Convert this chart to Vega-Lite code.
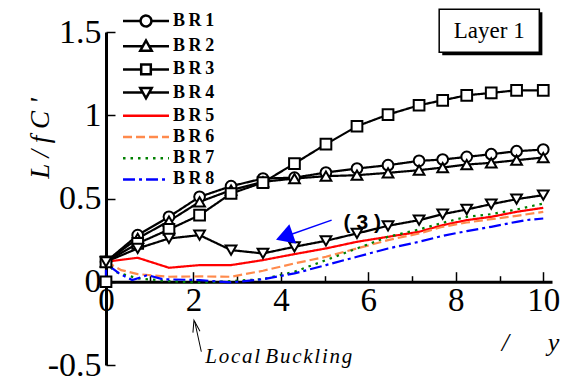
{
  "$schema": "https://vega.github.io/schema/vega-lite/v6.json",
  "width": 446,
  "height": 333,
  "autosize": "none",
  "padding": {"left": 106, "top": 32, "right": 17, "bottom": 15},
  "config": {"view": {"stroke": null}, "font": "Liberation Serif"},
  "datasets": {
    "series": [
      {"s":"BR1","i":0,"x":0,"y":0.12},{"s":"BR1","i":1,"x":0.725,"y":0.28},{"s":"BR1","i":2,"x":1.44,"y":0.39},{"s":"BR1","i":3,"x":2.14,"y":0.51},{"s":"BR1","i":4,"x":2.86,"y":0.574},{"s":"BR1","i":5,"x":3.59,"y":0.62},{"s":"BR1","i":6,"x":4.31,"y":0.625},{"s":"BR1","i":7,"x":5.03,"y":0.656},{"s":"BR1","i":8,"x":5.74,"y":0.68},{"s":"BR1","i":9,"x":6.45,"y":0.70},{"s":"BR1","i":10,"x":7.16,"y":0.726},{"s":"BR1","i":11,"x":7.70,"y":0.734},{"s":"BR1","i":12,"x":8.25,"y":0.75},{"s":"BR1","i":13,"x":8.81,"y":0.766},{"s":"BR1","i":14,"x":9.39,"y":0.784},{"s":"BR1","i":15,"x":10,"y":0.794},
      {"s":"BR2","i":0,"x":0,"y":0.12},{"s":"BR2","i":1,"x":0.725,"y":0.26},{"s":"BR2","i":2,"x":1.44,"y":0.364},{"s":"BR2","i":3,"x":2.14,"y":0.48},{"s":"BR2","i":4,"x":2.86,"y":0.55},{"s":"BR2","i":5,"x":3.59,"y":0.60},{"s":"BR2","i":6,"x":4.31,"y":0.62},{"s":"BR2","i":7,"x":5.03,"y":0.634},{"s":"BR2","i":8,"x":5.74,"y":0.64},{"s":"BR2","i":9,"x":6.45,"y":0.654},{"s":"BR2","i":10,"x":7.16,"y":0.67},{"s":"BR2","i":11,"x":7.70,"y":0.686},{"s":"BR2","i":12,"x":8.25,"y":0.704},{"s":"BR2","i":13,"x":8.81,"y":0.714},{"s":"BR2","i":14,"x":9.39,"y":0.73},{"s":"BR2","i":15,"x":10,"y":0.746},
      {"s":"BR3","i":0,"x":0,"y":0},{"s":"BR3","i":1,"x":0,"y":0.12},{"s":"BR3","i":2,"x":0.725,"y":0.23},{"s":"BR3","i":3,"x":1.44,"y":0.314},{"s":"BR3","i":4,"x":2.14,"y":0.40},{"s":"BR3","i":5,"x":2.86,"y":0.53},{"s":"BR3","i":6,"x":3.59,"y":0.596},{"s":"BR3","i":7,"x":4.31,"y":0.71},{"s":"BR3","i":8,"x":5.03,"y":0.826},{"s":"BR3","i":9,"x":5.74,"y":0.934},{"s":"BR3","i":10,"x":6.45,"y":1.004},{"s":"BR3","i":11,"x":7.16,"y":1.06},{"s":"BR3","i":12,"x":7.70,"y":1.09},{"s":"BR3","i":13,"x":8.25,"y":1.12},{"s":"BR3","i":14,"x":8.81,"y":1.134},{"s":"BR3","i":15,"x":9.39,"y":1.15},{"s":"BR3","i":16,"x":10,"y":1.15},
      {"s":"BR4","i":0,"x":0,"y":0.12},{"s":"BR4","i":1,"x":0.725,"y":0.20},{"s":"BR4","i":2,"x":1.44,"y":0.26},{"s":"BR4","i":3,"x":2.14,"y":0.28},{"s":"BR4","i":4,"x":2.86,"y":0.19},{"s":"BR4","i":5,"x":3.59,"y":0.17},{"s":"BR4","i":6,"x":4.31,"y":0.21},{"s":"BR4","i":7,"x":5.03,"y":0.246},{"s":"BR4","i":8,"x":5.74,"y":0.29},{"s":"BR4","i":9,"x":6.45,"y":0.336},{"s":"BR4","i":10,"x":7.16,"y":0.37},{"s":"BR4","i":11,"x":7.70,"y":0.406},{"s":"BR4","i":12,"x":8.25,"y":0.434},{"s":"BR4","i":13,"x":8.81,"y":0.466},{"s":"BR4","i":14,"x":9.39,"y":0.496},{"s":"BR4","i":15,"x":10,"y":0.52},
      {"s":"BR5","i":0,"x":0,"y":0.12},{"s":"BR5","i":1,"x":0.725,"y":0.144},{"s":"BR5","i":2,"x":1.44,"y":0.084},{"s":"BR5","i":3,"x":2.14,"y":0.10},{"s":"BR5","i":4,"x":2.86,"y":0.10},{"s":"BR5","i":5,"x":3.59,"y":0.13},{"s":"BR5","i":6,"x":4.31,"y":0.166},{"s":"BR5","i":7,"x":5.03,"y":0.20},{"s":"BR5","i":8,"x":5.74,"y":0.24},{"s":"BR5","i":9,"x":6.45,"y":0.27},{"s":"BR5","i":10,"x":7.16,"y":0.30},{"s":"BR5","i":11,"x":7.70,"y":0.34},{"s":"BR5","i":12,"x":8.25,"y":0.37},{"s":"BR5","i":13,"x":8.81,"y":0.39},{"s":"BR5","i":14,"x":9.39,"y":0.42},{"s":"BR5","i":15,"x":10,"y":0.444},
      {"s":"BR6","i":0,"x":0,"y":0.12},{"s":"BR6","i":1,"x":0.35,"y":0.07},{"s":"BR6","i":2,"x":0.725,"y":0.046},{"s":"BR6","i":3,"x":1.44,"y":0.03},{"s":"BR6","i":4,"x":2.14,"y":0.032},{"s":"BR6","i":5,"x":2.86,"y":0.03},{"s":"BR6","i":6,"x":3.59,"y":0.066},{"s":"BR6","i":7,"x":4.31,"y":0.11},{"s":"BR6","i":8,"x":5.03,"y":0.15},{"s":"BR6","i":9,"x":5.74,"y":0.20},{"s":"BR6","i":10,"x":6.45,"y":0.25},{"s":"BR6","i":11,"x":7.16,"y":0.29},{"s":"BR6","i":12,"x":7.70,"y":0.33},{"s":"BR6","i":13,"x":8.25,"y":0.356},{"s":"BR6","i":14,"x":8.81,"y":0.376},{"s":"BR6","i":15,"x":9.39,"y":0.396},{"s":"BR6","i":16,"x":10,"y":0.42},
      {"s":"BR7","i":0,"x":0,"y":0.12},{"s":"BR7","i":1,"x":0.2,"y":0.06},{"s":"BR7","i":2,"x":0.725,"y":0.02},{"s":"BR7","i":3,"x":1.44,"y":0.004},{"s":"BR7","i":4,"x":2.14,"y":-0.006},{"s":"BR7","i":5,"x":2.86,"y":0.004},{"s":"BR7","i":6,"x":3.59,"y":0.016},{"s":"BR7","i":7,"x":4.31,"y":0.06},{"s":"BR7","i":8,"x":5.03,"y":0.13},{"s":"BR7","i":9,"x":5.74,"y":0.20},{"s":"BR7","i":10,"x":6.45,"y":0.27},{"s":"BR7","i":11,"x":7.16,"y":0.314},{"s":"BR7","i":12,"x":7.70,"y":0.354},{"s":"BR7","i":13,"x":8.25,"y":0.39},{"s":"BR7","i":14,"x":8.81,"y":0.406},{"s":"BR7","i":15,"x":9.39,"y":0.434},{"s":"BR7","i":16,"x":10,"y":0.47},
      {"s":"BR8","i":0,"x":0,"y":0.0},{"s":"BR8","i":1,"x":0,"y":0.11},{"s":"BR8","i":2,"x":0.3,"y":0.05},{"s":"BR8","i":3,"x":0.6,"y":0.01},{"s":"BR8","i":4,"x":0.95,"y":0.04},{"s":"BR8","i":5,"x":1.3,"y":0.015},{"s":"BR8","i":6,"x":2.14,"y":0.01},{"s":"BR8","i":7,"x":2.86,"y":-0.004},{"s":"BR8","i":8,"x":3.59,"y":0.015},{"s":"BR8","i":9,"x":4.31,"y":0.05},{"s":"BR8","i":10,"x":5.03,"y":0.10},{"s":"BR8","i":11,"x":5.74,"y":0.15},{"s":"BR8","i":12,"x":6.45,"y":0.20},{"s":"BR8","i":13,"x":7.16,"y":0.24},{"s":"BR8","i":14,"x":7.70,"y":0.276},{"s":"BR8","i":15,"x":8.25,"y":0.304},{"s":"BR8","i":16,"x":8.81,"y":0.33},{"s":"BR8","i":17,"x":9.39,"y":0.36},{"s":"BR8","i":18,"x":9.6,"y":0.37},{"s":"BR8","i":19,"x":10,"y":0.38}
    ]
  },
  "layer": [
    {
      "data": {"name": "series"},
      "mark": {"type": "line", "strokeWidth": 2.2},
      "encoding": {
        "x": {
          "field": "x", "type": "quantitative",
          "scale": {"domain": [0, 10.2], "nice": false, "zero": false},
          "axis": {
            "values": [0,1,2,3,4,5,6,7,8,9,10],
            "labelExpr": "datum.value % 2 == 0 ? datum.label : ''",
            "offset": -83.3,
            "grid": false,
            "domainColor": "black", "domainWidth": 3,
            "tickColor": "black", "tickWidth": 1.5,
            "tickSize": {"condition": {"test": "datum.value % 2 == 1", "value": -6}, "value": -10},
            "labelFont": "Liberation Serif", "labelFontSize": 33, "labelColor": "black",
            "labelPadding": 13, "labelFlush": false, "labelOverlap": false,
            "title": "/\u00a0\u00a0\u00a0\u00a0\u00a0\u00a0y",
            "titleFont": "Liberation Serif", "titleFontStyle": "italic", "titleFontWeight": "normal",
            "titleFontSize": 26, "titleColor": "black",
            "titleX": 424, "titleY": 61, "titleAlign": "center", "titleBaseline": "middle", "titleAngle": 0
          }
        },
        "y": {
          "field": "y", "type": "quantitative",
          "scale": {"domain": [-0.5, 1.5], "nice": false, "zero": false},
          "axis": {
            "values": [-0.5, 0, 0.5, 1, 1.5],
            "labelExpr": "replace(format(datum.value, '~g'), '\u2212', '-')",
            "grid": false,
            "domainColor": "black", "domainWidth": 3,
            "tickColor": "black", "tickWidth": 1.5, "tickSize": -9,
            "labelFont": "Liberation Serif", "labelFontSize": 34, "labelColor": "black",
            "labelPadding": 14, "labelFlush": false, "labelOverlap": false,
            "title": "L / f C '",
            "titleFont": "Liberation Serif", "titleFontStyle": "italic", "titleFontWeight": "normal",
            "titleFontSize": 27, "titleColor": "black",
            "titleX": -66, "titleY": 106, "titleAlign": "center", "titleBaseline": "middle", "titleAngle": -90
          }
        },
        "order": {"field": "i", "type": "quantitative"},
        "color": {
          "field": "s", "type": "nominal",
          "scale": {"domain": ["BR1","BR2","BR3","BR4","BR5","BR6","BR7","BR8"], "range": ["#000000","#000000","#000000","#000000","#ff0000","#ff8a4c","#008000","#0000ff"]},
          "legend": {
            "orient": "none", "legendX": 31, "legendY": -20, "title": null, "padding": 0,
            "symbolSize": 144, "symbolStrokeWidth": 2.5,
            "labelFont": "Liberation Serif", "labelFontSize": 18, "labelFontWeight": "bold", "labelColor": "black",
            "labelExpr": "slice(datum.label,0,1) + '\u2009' + slice(datum.label,1,2) + '\u2009' + slice(datum.label,2)",
            "labelOffset": 18, "rowPadding": 3.2,
            "encode": {"symbols": {"update": {
              "fill": {"value": "white"},
              "shape": {"signal": "datum.value == 'BR1' ? 'M-3.83,0H-0.9M0.9,0H3.83M0.9,0A0.9,0.9,0,1,1,-0.9,0A0.9,0.9,0,1,1,0.9,0Z' : datum.value == 'BR2' ? 'M-3.83,0H-0.53M0.53,0H3.83M0,-0.95L0.95,0.75L-0.95,0.75Z' : datum.value == 'BR3' ? 'M-3.83,0H-0.8M0.8,0H3.83M-0.8,-0.8H0.8V0.8H-0.8Z' : datum.value == 'BR4' ? 'M-3.83,0H-0.53M0.53,0H3.83M0,0.95L0.95,-0.75L-0.95,-0.75Z' : 'M-3.83,0H3.83'"}
            }}}
          }
        },
        "strokeDash": {
          "field": "s", "type": "nominal",
          "scale": {"domain": ["BR1","BR2","BR3","BR4","BR5","BR6","BR7","BR8"], "range": [[1,0],[1,0],[1,0],[1,0],[1,0],[9,4],[2.5,5],[12,4,3,4]]},
          "legend": {
            "orient": "none", "legendX": 31, "legendY": -20, "title": null, "padding": 0,
            "symbolSize": 144, "symbolStrokeWidth": 2.5,
            "labelFont": "Liberation Serif", "labelFontSize": 18, "labelFontWeight": "bold", "labelColor": "black",
            "labelOffset": 18, "rowPadding": 3.2
          }
        }
      }
    },
    {
      "data": {"name": "series"},
      "transform": [{"filter": "indexof(['BR1','BR2','BR3','BR4'], datum.s) >= 0"}],
      "mark": {"type": "point", "filled": false, "fill": "white", "fillOpacity": 1, "stroke": "black", "strokeWidth": 2, "size": 115, "opacity": 1},
      "encoding": {
        "x": {"field": "x", "type": "quantitative"},
        "y": {"field": "y", "type": "quantitative"},
        "shape": {"field": "s", "type": "nominal", "scale": {"domain": ["BR1","BR2","BR3","BR4"], "range": ["circle","triangle-up","square","triangle-down"]}, "legend": null}
      }
    },
    {
      "data": {"values": [{}]},
      "mark": {"type": "rule", "stroke": "black", "strokeWidth": 1},
      "encoding": {"x": {"datum": 2.18}, "y": {"datum": -0.42}, "x2": {"datum": 2.03}, "y2": {"datum": -0.24}}
    },
    {
      "data": {"values": [{}]},
      "mark": {"type": "point", "shape": "M-0.6,1L0,-1L0.6,1", "filled": false, "stroke": "black", "strokeWidth": 1, "size": 144, "angle": 348, "opacity": 1},
      "encoding": {"x": {"datum": 2.04}, "y": {"datum": -0.266}}
    },
    {
      "data": {"values": [{}]},
      "mark": {"type": "text", "text": "L\u200ao\u200ac\u200aa\u200al\u00a0B\u200au\u200ac\u200ak\u200al\u200ai\u200an\u200ag", "font": "Liberation Serif", "fontStyle": "italic", "fontSize": 21, "align": "left", "baseline": "middle", "color": "black"},
      "encoding": {"x": {"datum": 2.27}, "y": {"datum": -0.45}}
    },
    {
      "data": {"values": [{}]},
      "mark": {"type": "rule", "stroke": "#0000ff", "strokeWidth": 1.5},
      "encoding": {"x": {"datum": 4.08}, "y": {"datum": 0.27}, "x2": {"datum": 5.16}, "y2": {"datum": 0.37}}
    },
    {
      "data": {"values": [{}]},
      "mark": {"type": "point", "shape": "triangle-left", "filled": true, "color": "#0000ff", "size": 420, "angle": 340.6, "opacity": 1},
      "encoding": {"x": {"datum": 4.08}, "y": {"datum": 0.27}}
    },
    {
      "data": {"values": [{}]},
      "mark": {"type": "text", "text": "( 3 )", "font": "Liberation Sans", "fontWeight": "bold", "fontSize": 21, "align": "center", "baseline": "middle", "color": "black"},
      "encoding": {"x": {"datum": 5.86}, "y": {"datum": 0.352}}
    },
    {
      "data": {"values": [{}]},
      "mark": {"type": "rect", "fill": "black"},
      "encoding": {"x": {"datum": 7.69}, "x2": {"datum": 9.98}, "y": {"datum": 1.618}, "y2": {"datum": 1.36}}
    },
    {
      "data": {"values": [{}]},
      "mark": {"type": "rect", "fill": "white", "stroke": "black", "strokeWidth": 1.5},
      "encoding": {"x": {"datum": 7.62}, "x2": {"datum": 9.91}, "y": {"datum": 1.636}, "y2": {"datum": 1.378}}
    },
    {
      "data": {"values": [{}]},
      "mark": {"type": "text", "text": "Layer 1", "font": "Liberation Serif", "fontSize": 23, "align": "center", "baseline": "middle", "color": "black"},
      "encoding": {"x": {"datum": 8.765}, "y": {"datum": 1.507}}
    }
  ]
}
